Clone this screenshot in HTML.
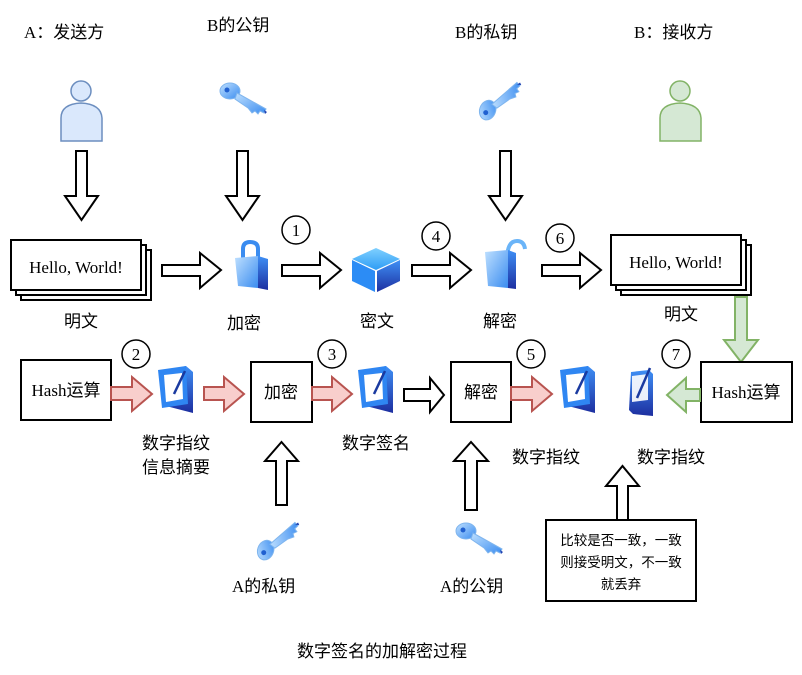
<!DOCTYPE html>
<html><head><meta charset="utf-8">
<style>
html,body{margin:0;padding:0;background:#fff;}
svg{display:block;}
text{font-family:"Liberation Serif","Noto Sans CJK SC",serif;font-size:17px;fill:#000;}
.c{font-family:"Liberation Sans","Noto Sans CJK SC",sans-serif;}
</style></head><body>
<svg width="802" height="675" viewBox="0 0 802 675" xmlns="http://www.w3.org/2000/svg">
<defs>
<linearGradient id="bl" x1="0" y1="0" x2="1" y2="1"><stop offset="0" stop-color="#bfe0ff"/><stop offset="1" stop-color="#3a8cf0"/></linearGradient>
<linearGradient id="bd" x1="0" y1="0" x2="0" y2="1"><stop offset="0" stop-color="#3f8ff5"/><stop offset="1" stop-color="#1d2fa0"/></linearGradient>
<linearGradient id="ct" x1="0" y1="0" x2="0" y2="1"><stop offset="0" stop-color="#7fd0ff"/><stop offset="1" stop-color="#2e9cf5"/></linearGradient>
<g id="mon">
<path d="M2 6 L28 0 L35 6 L35 47 L8 40 Z" fill="url(#bd)"/>
<path d="M0 4 L28 0 L30 38 L4 42 Z" fill="#2f86f2"/>
<path d="M6 9 L24 7 L25 33 L8 36 Z" fill="#fff"/>
<line x1="16" y1="28" x2="27" y2="5" stroke="#1a3aa0" stroke-width="2.5"/>
</g>
<g id="key">
<ellipse cx="10" cy="10" rx="10" ry="8" fill="url(#bl)" stroke="#7fb5ee"/>
<circle cx="7" cy="9" r="2.5" fill="#2060d0"/>
<path d="M17 12 L46 28 L44 32 L40 30 L38 33 L35 30 L32 32 L28 27 L15 18 Z" fill="url(#bl)" stroke="#7fb5ee"/>
<path d="M44 29 L47 31 L45 33" fill="#1d40b0"/>
</g>
</defs>

<text x="24" y="38">A<tspan class="c">：发送方</tspan></text>
<text x="207" y="31">B<tspan class="c">的公钥</tspan></text>
<text x="455" y="38">B<tspan class="c">的私钥</tspan></text>
<text x="634" y="38">B<tspan class="c">：接收方</tspan></text>

<g stroke="#6c8ebf" stroke-width="1.5" fill="#dae8fc">
<circle cx="81" cy="91" r="10"/>
<path d="M61 141 L61 118 Q61 104 81 103 Q101 104 102 118 L102 141 Z"/>
</g>
<g stroke="#82b366" stroke-width="1.5" fill="#d5e8d4">
<circle cx="680" cy="91" r="10"/>
<path d="M660 141 L660 118 Q660 104 680 103 Q700 104 701 118 L701 141 Z"/>
</g>

<use href="#key" x="220" y="81"/>
<g transform="translate(487,112) rotate(-70) translate(-8,-10)"><use href="#key"/></g>

<g fill="#fff" stroke="#000" stroke-width="2">
<path d="M76 151 L87 151 L87 196 L98 196 L81.5 220 L65 196 L76 196 Z"/>
<path d="M237 151 L248 151 L248 196 L259 196 L242.5 220 L226 196 L237 196 Z"/>
<path d="M500 151 L511 151 L511 196 L522 196 L505.5 220 L489 196 L500 196 Z"/>
</g>

<g fill="#fff" stroke="#000" stroke-width="2">
<rect x="21" y="250" width="130" height="50"/>
<rect x="16" y="245" width="130" height="50"/>
<rect x="11" y="240" width="130" height="50"/>
<rect x="621" y="245" width="130" height="50"/>
<rect x="616" y="240" width="130" height="50"/>
<rect x="611" y="235" width="130" height="50"/>
</g>
<text x="76" y="273" text-anchor="middle">Hello, World!</text>
<text x="676" y="268" text-anchor="middle">Hello, World!</text>

<g fill="#fff" stroke="#000" stroke-width="2">
<path d="M162 265 L200 265 L200 253 L221 270 L200 288 L200 276 L162 276 Z"/>
<path d="M282 265 L320 265 L320 253 L341 270 L320 288 L320 276 L282 276 Z"/>
<path d="M412 265 L450 265 L450 253 L471 270 L450 288 L450 276 L412 276 Z"/>
<path d="M542 265 L580 265 L580 253 L601 270 L580 288 L580 276 L542 276 Z"/>
<path d="M404 389 L430 389 L430 378 L444 395 L430 412 L430 401 L404 401 Z"/>
</g>

<path d="M243 258 L243 249 Q243 242 250 242 Q258 242 258 249 L258 260" fill="none" stroke="#3a8cf0" stroke-width="4"/>
<path d="M235 258 L258 256 L258 288 L238 286 Z" fill="url(#bl)"/>
<path d="M258 256 L268 259 L268 290 L258 288 Z" fill="url(#bd)"/>
<path d="M376 248 L400 259 L376 270 L352 259 Z" fill="url(#ct)"/>
<path d="M352 260 L375 271 L375 292 L352 281 Z" fill="#2c8cf5"/>
<path d="M377 271 L400 260 L400 281 L377 292 Z" fill="url(#bd)"/>
<path d="M508 262 L508 250 Q510 241 517 241 Q524 241 525 249" fill="none" stroke="#6ab4f8" stroke-width="4"/>
<path d="M485 252 L508 250 L508 288 L488 286 Z" fill="url(#bl)"/>
<path d="M508 250 L516 253 L516 289 L508 288 Z" fill="url(#bd)"/>

<text x="81" y="327" text-anchor="middle" class="c">明文</text>
<text x="244" y="329" text-anchor="middle" class="c">加密</text>
<text x="377" y="327" text-anchor="middle" class="c">密文</text>
<text x="500" y="327" text-anchor="middle" class="c">解密</text>
<text x="681" y="320" text-anchor="middle" class="c">明文</text>

<g fill="#fff" stroke="#000" stroke-width="1.5">
<circle cx="296" cy="230" r="14"/><circle cx="436" cy="236" r="14"/><circle cx="560" cy="238" r="14"/>
<circle cx="136" cy="354" r="14"/><circle cx="332" cy="354" r="14"/><circle cx="531" cy="354" r="14"/><circle cx="676" cy="354" r="14"/>
</g>
<g text-anchor="middle">
<text x="296" y="236">1</text><text x="436" y="242">4</text><text x="560" y="244">6</text>
<text x="136" y="360">2</text><text x="332" y="360">3</text><text x="531" y="360">5</text><text x="676" y="360">7</text>
</g>

<path d="M735 297 L747 297 L747 340 L758 340 L741 362 L724 340 L735 340 Z" fill="#d5e8d4" stroke="#82b366" stroke-width="2"/>

<g fill="#fff" stroke="#000" stroke-width="2">
<rect x="21" y="360" width="90" height="60"/>
<rect x="251" y="362" width="61" height="60"/>
<rect x="451" y="362" width="60" height="60"/>
<rect x="701" y="362" width="91" height="60"/>
</g>
<text x="66" y="396" text-anchor="middle">Hash<tspan class="c">运算</tspan></text>
<text x="281" y="398" text-anchor="middle" class="c">加密</text>
<text x="481" y="398" text-anchor="middle" class="c">解密</text>
<text x="746" y="398" text-anchor="middle">Hash<tspan class="c">运算</tspan></text>

<g fill="#f8cecc" stroke="#b85450" stroke-width="2">
<path d="M111 387 L132 387 L132 377 L152 394 L132 411 L132 400 L111 400 Z"/>
<path d="M204 387 L224 387 L224 377 L244 394 L224 411 L224 400 L204 400 Z"/>
<path d="M312 387 L332 387 L332 377 L352 394 L332 411 L332 400 L312 400 Z"/>
<path d="M511 387 L532 387 L532 377 L552 394 L532 411 L532 400 L511 400 Z"/>
</g>
<path d="M700 389 L686 389 L686 378 L667 395 L686 412 L686 401 L700 401 Z" fill="#d5e8d4" stroke="#82b366" stroke-width="2"/>

<use href="#mon" x="158" y="366"/>
<use href="#mon" x="358" y="366"/>
<use href="#mon" x="560" y="366"/>
<path d="M631 372 L649 370 L653 374 L653 416 L633 414 L629 410 Z" fill="url(#bd)"/>
<path d="M632 376 L648 374 L648 400 L632 402 Z" fill="#fff" opacity="0.9"/>
<line x1="637" y1="398" x2="650" y2="368" stroke="#1a3aa0" stroke-width="2.5"/>

<text x="176" y="449" text-anchor="middle" class="c">数字指纹</text>
<text x="176" y="473" text-anchor="middle" class="c">信息摘要</text>
<text x="376" y="449" text-anchor="middle" class="c">数字签名</text>
<text x="546" y="463" text-anchor="middle" class="c">数字指纹</text>
<text x="671" y="463" text-anchor="middle" class="c">数字指纹</text>

<g fill="#fff" stroke="#000" stroke-width="2">
<path d="M276 505 L287 505 L287 461 L298 461 L281.5 442 L265 461 L276 461 Z"/>
<path d="M465 510 L477 510 L477 461 L488 461 L471 442 L454 461 L465 461 Z"/>
<path d="M617 520 L628 520 L628 486 L639 486 L622.5 466 L606 486 L617 486 Z"/>
</g>

<g transform="translate(265,552) rotate(-70) translate(-8,-10)"><use href="#key"/></g>
<use href="#key" x="456" y="521"/>
<text x="232" y="592">A<tspan class="c">的私钥</tspan></text>
<text x="440" y="592">A<tspan class="c">的公钥</tspan></text>

<rect x="546" y="520" width="150" height="81" fill="#fff" stroke="#000" stroke-width="2"/>
<g text-anchor="middle">
<text x="621" y="545" class="c" style="font-size:13.5px">比较是否一致，一致</text>
<text x="621" y="567" class="c" style="font-size:13.5px">则接受明文，不一致</text>
<text x="621" y="589" class="c" style="font-size:13.5px">就丢弃</text>
</g>

<text x="382" y="657" text-anchor="middle" class="c">数字签名的加解密过程</text>
</svg>
</body></html>
